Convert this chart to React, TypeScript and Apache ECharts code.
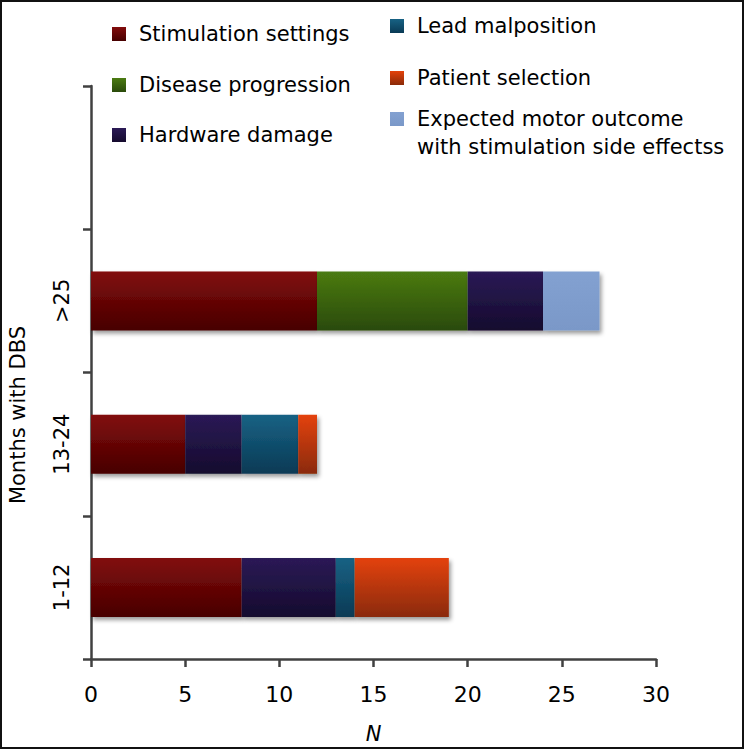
import React, { useEffect, useRef } from "react";
import * as echarts from "echarts";

const categories = ["1-12", "13-24", ">25", ""];
const stimulationSettings = [8, 5, 12, null];
const diseaseProgression = [null, null, 8, null];
const hardwareDamage = [5, 3, 4, null];
const leadMalposition = [1, 3, null, null];
const patientSelection = [5, 1, null, null];
const expectedMotorOutcome = [null, null, 3, null];
const xTicks = { min: 0, max: 30, interval: 5 };

const FONT = "'DejaVu Sans', 'Liberation Sans', Arial, sans-serif";

const grad = (top: string, bottom: string) =>
  new echarts.graphic.LinearGradient(0, 0, 0, 1, [
    { offset: 0, color: top },
    { offset: 1, color: bottom },
  ]);

const seriesDefs = [
  { name: "Stimulation settings", data: stimulationSettings, c: ["#820c0c", "#470000"] },
  { name: "Disease progression", data: diseaseProgression, c: ["#4b7b12", "#2a4a0b"] },
  { name: "Hardware damage", data: hardwareDamage, c: ["#2b1a56", "#150b2e"] },
  { name: "Lead malposition", data: leadMalposition, c: ["#176284", "#0a3a55"] },
  { name: "Patient selection", data: patientSelection, c: ["#e4420a", "#8a2a08"] },
  {
    name: "Expected motor outcome with stimulation side effectss",
    data: expectedMotorOutcome,
    c: ["#83a1d1", "#7a98c8"],
  },
];

// legend layout: [series index, left, iconCenterY]
const legendPos: [number, number, number][] = [
  [0, 112, 34],
  [1, 112, 85],
  [2, 112, 135],
  [3, 390, 26],
  [4, 390, 78],
  [5, 390, 119],
];

export default function App() {
  const ref = useRef<HTMLDivElement>(null);
  useEffect(() => {
    if (!ref.current) return;
    const chart = echarts.init(ref.current, null, { renderer: "svg" });
    const noShadow = { shadowBlur: 0, shadowOffsetX: 0, shadowOffsetY: 0, shadowColor: "rgba(0,0,0,0)" };
    const legends = legendPos.map(([idx, left, cy]) => {
      const multi = idx === 5;
      const lh = multi ? 28 : 24;
      return {
        data: [seriesDefs[idx].name],
        left,
        top: multi ? cy - lh * 1.5 : cy - lh / 2,
        padding: 0,
        icon: "rect",
        itemWidth: 14,
        itemHeight: 14,
        itemStyle: noShadow,
        selectedMode: false,
        formatter: multi ? () => "\nExpected motor outcome\nwith stimulation side effectss" : undefined,
        textStyle: {
          fontFamily: FONT,
          fontSize: 21,
          color: "#000",
          lineHeight: lh,
          padding: [0, 0, 0, 8],
        },
      };
    });
    chart.setOption({
      animation: false,
      backgroundColor: "#fff",
      legend: legends,
      grid: { left: 91, right: 88, top: 86, bottom: 85, containLabel: false },
      xAxis: {
        type: "value",
        min: xTicks.min,
        max: xTicks.max,
        interval: xTicks.interval,
        name: "N",
        nameLocation: "middle",
        nameGap: 64,
        nameTextStyle: { fontFamily: FONT, fontSize: 21, fontStyle: "italic", color: "#000" },
        axisLine: { show: true, lineStyle: { color: "#404040", width: 2.5 } },
        axisTick: { show: true, length: 8, lineStyle: { color: "#404040", width: 2.5 } },
        axisLabel: { fontFamily: FONT, fontSize: 22, color: "#000", margin: 24 },
        splitLine: { show: false },
      },
      yAxis: {
        type: "category",
        data: categories,
        axisLine: { show: true, lineStyle: { color: "#404040", width: 2.5 } },
        axisTick: { show: true, length: 8, alignWithLabel: false, lineStyle: { color: "#404040", width: 2.5 } },
        axisLabel: { fontFamily: FONT, fontSize: 21, color: "#000", rotate: 90, margin: 19 },
        splitLine: { show: false },
      },
      series: seriesDefs.map((s) => ({
        type: "bar",
        name: s.name,
        stack: "total",
        barWidth: 59,
        data: s.data,
        itemStyle: {
          color: grad(s.c[0], s.c[1]),
          shadowColor: "rgba(0,0,0,0.4)",
          shadowBlur: 4,
          shadowOffsetX: 2,
          shadowOffsetY: 3,
        },
        emphasis: { disabled: true },
      })),
      graphic: [
        {
          type: "text",
          x: 18,
          y: 415,
          rotation: Math.PI / 2,
          style: {
            text: "Months with DBS",
            fontFamily: FONT,
            fontSize: 21,
            fill: "#000",
            align: "center",
            verticalAlign: "middle",
          },
        },
        {
          type: "rect",
          z: 100,
          shape: { x: 1, y: 1, width: 742, height: 747 },
          style: { fill: "none", stroke: "#111", lineWidth: 2 },
        },
      ],
    });
    return () => chart.dispose();
  }, []);
  return (
    <div
      ref={ref}
      style={{ position: "fixed", left: 0, top: 0, width: 744, height: 749, background: "#fff" }}
    />
  );
}
